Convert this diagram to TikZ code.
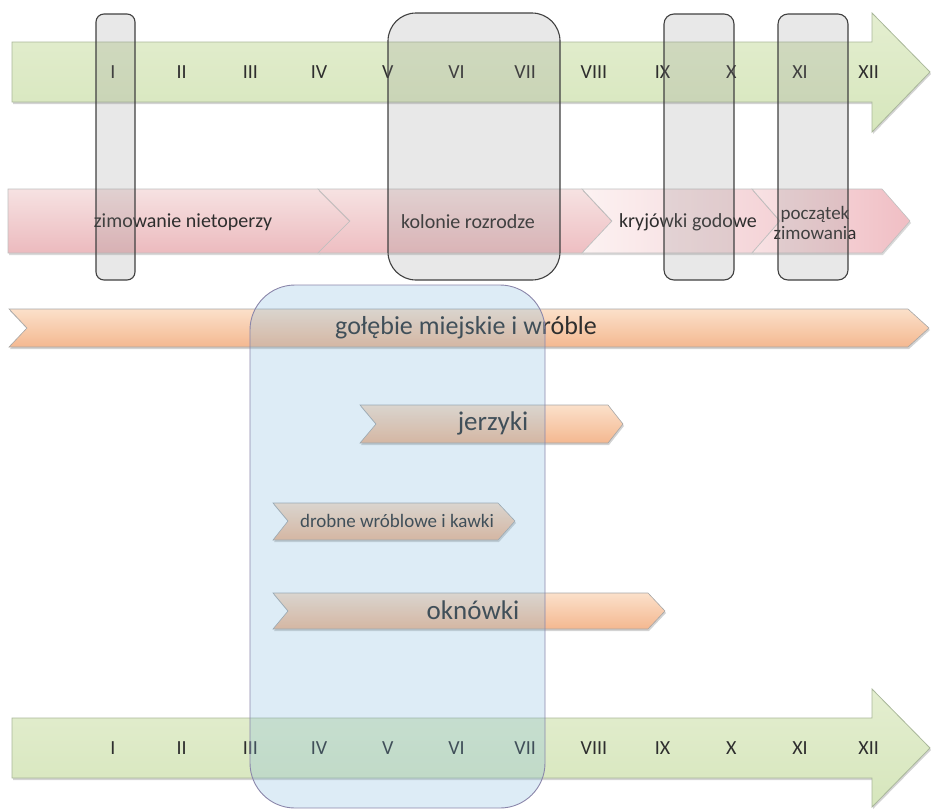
\documentclass[tikz,border=0pt]{standalone}
\usepackage{fontspec}
\setmainfont{Carlito}
\usepackage{tikz}
\usetikzlibrary{shadows}
\tikzset{font=\fontsize{20}{22}\selectfont}

\definecolor{txtgray}{HTML}{2E2E2E}
\definecolor{greenline}{HTML}{A9B79A}

\begin{document}
\begin{tikzpicture}[x=1pt, y=-1pt]
		\tikzstyle{timeline} = [draw=greenline, line width=0.8pt, top color={rgb,255:red,228;green,238;blue,208}, bottom color={rgb,255:red,214;green,230;blue,188}, drop shadow={opacity=0.35, shadow xshift=1pt, shadow yshift=-2pt}];
		\tikzstyle{season} = [draw=black!25, line width=0.6pt, drop shadow={opacity=0.3, shadow xshift=1pt, shadow yshift=-2pt}];
		\tikzstyle{birds} = [draw=black!35, line width=0.6pt, top color={rgb,255:red,251;green,224;blue,202}, bottom color={rgb,255:red,244;green,184;blue,144}, drop shadow={opacity=0.35, shadow xshift=1pt, shadow yshift=-2pt}];
		\tikzstyle{window} = [draw=black!75, line width=1.1pt, fill=black!45, fill opacity=0.2, rounded corners=8pt];
		\tikzstyle{nest} = [draw={rgb,255:red,138;green,134;blue,170}, line width=0.9pt, fill={rgb,255:red,120;green,180;blue,220}, fill opacity=0.25, rounded corners=45pt];
		\tikzstyle{month} = [text=txtgray, inner sep=0pt];
		\tikzstyle{label} = [text=txtgray, inner sep=0pt, align=center];
		
		\useasboundingbox (0,0) rectangle (931,809);
		
		% months, top
		\path[timeline] (12,42) -- (872,42) -- (872,13) -- (930,72) -- (872,132) -- (872,102) -- (12,102) -- cycle;
		\foreach \m [count=\i] in {I,II,III,IV,V,VI,VII,VIII,IX,X,XI,XII}
			\node[month](top\i) at (113+68.7*\i-68.7, 72){\m};
		
		% bats
		\path[season, top color={rgb,255:red,246;green,226;blue,226}, bottom color={rgb,255:red,236;green,186;blue,190}] (8,189) -- (318,189) -- (350,221) -- (318,253) -- (8,253) -- cycle;
		\path[season, top color={rgb,255:red,246;green,226;blue,226}, bottom color={rgb,255:red,238;green,190;blue,194}] (318,189) -- (582,189) -- (612,221) -- (582,253) -- (318,253) -- (350,221) -- cycle;
		\path[season, left color={rgb,255:red,252;green,242;blue,242}, right color={rgb,255:red,244;green,210;blue,214}] (582,189) -- (752,189) -- (780,221) -- (752,253) -- (582,253) -- (612,221) -- cycle;
		\path[season, left color={rgb,255:red,248;green,226;blue,228}, right color={rgb,255:red,240;green,190;blue,196}] (752,189) -- (882,189) -- (910,221) -- (882,253) -- (752,253) -- (780,221) -- cycle;
		\node[label, font=\fontsize{20}{22}\selectfont](wintering) at (183,222){zimowanie nietoperzy};
		\node[label, font=\fontsize{20}{22}\selectfont](colonies) at (468,222){kolonie rozrodze};
		\node[label, font=\fontsize{20}{22}\selectfont](mating) at (688,222){kryjówki godowe};
		\node[label, font=\fontsize{19}{20}\selectfont](start) at (815,223){początek\\zimowania};
		
		% birds
		\path[birds] (9,309) -- (908,309) -- (929,328) -- (908,347) -- (9,347) -- (27,328) -- cycle;
		\node[label, font=\fontsize{26}{28}\selectfont](pigeons) at (466,328){gołębie miejskie i wróble};
		\path[birds] (360,405) -- (608,405) -- (623,424) -- (608,443) -- (360,443) -- (376,424) -- cycle;
		\node[label, font=\fontsize{27}{29}\selectfont](swifts) at (493,423){jerzyki};
		\path[birds] (273,503) -- (498,503) -- (515,521) -- (498,540) -- (273,540) -- (288,521) -- cycle;
		\node[label, font=\fontsize{19}{21}\selectfont](passerines) at (397,521){drobne wróblowe i kawki};
		\path[birds] (273,593) -- (648,593) -- (665,611) -- (648,629) -- (273,629) -- (288,611) -- cycle;
		\node[label, font=\fontsize{27}{29}\selectfont](martins) at (473,610){oknówki};
		
		% months, bottom
		\path[timeline] (12,718) -- (872,718) -- (872,689) -- (930,748) -- (872,807) -- (872,778) -- (12,778) -- cycle;
		\foreach \m [count=\i] in {I,II,III,IV,V,VI,VII,VIII,IX,X,XI,XII}
			\node[month](bottom\i) at (113+68.7*\i-68.7, 748){\m};
		
		% periods
		\draw[window] (96,14) rectangle (135,280);
		\draw[window, rounded corners=28pt] (388,13) rectangle (560,280);
		\draw[window, rounded corners=10pt] (664,14) rectangle (734,280);
		\draw[window, rounded corners=10pt] (778,14) rectangle (848,280);
		\draw[nest] (250,285) rectangle (545,808);
\end{tikzpicture}
\end{document}
